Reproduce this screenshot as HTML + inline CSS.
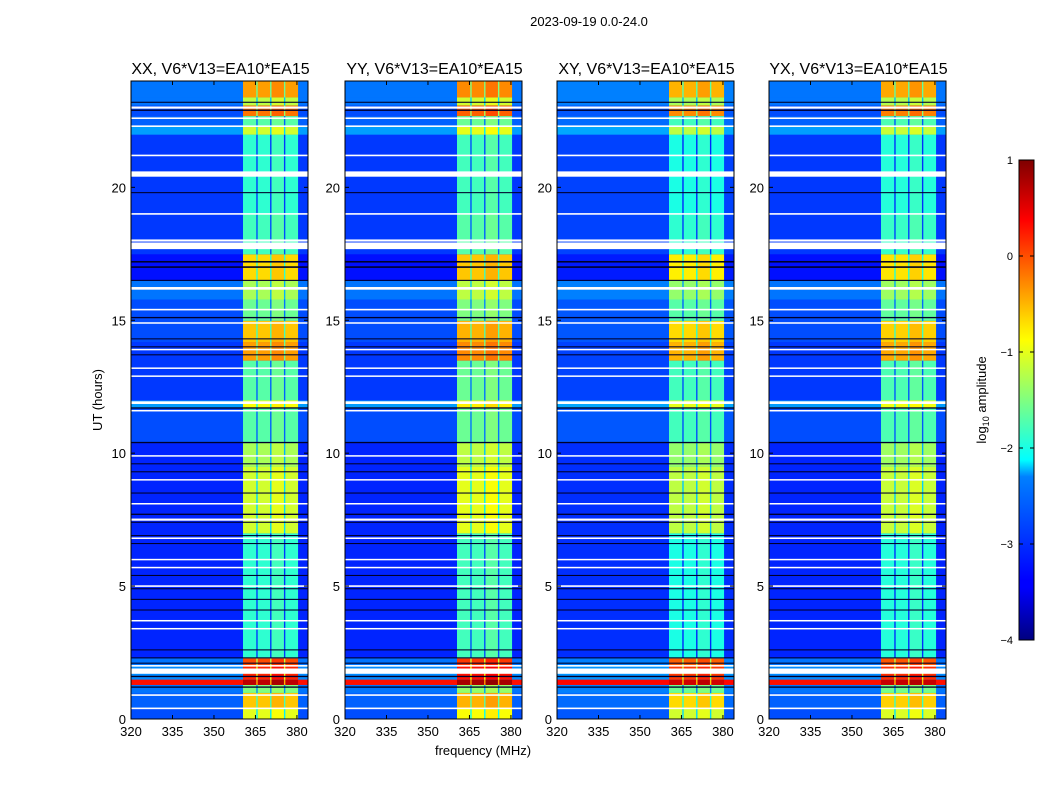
<!DOCTYPE html>
<html><head><meta charset="utf-8"><style>
body{margin:0;background:#fff;font-family:"Liberation Sans",sans-serif}
svg text{font-family:"Liberation Sans",sans-serif}
</style></head><body>
<svg id="fig" width="1050" height="800" viewBox="0 0 1050 800">
<text x="589" y="26" font-size="13" text-anchor="middle">2023-09-19 0.0-24.0</text>
<g id="panels"></g>
<text x="483" y="755" font-size="13" text-anchor="middle">frequency (MHz)</text>
<text transform="translate(102,400) rotate(-90)" font-size="13" text-anchor="middle">UT (hours)</text>
<defs><linearGradient id="jetg" x1="0" y1="1" x2="0" y2="0">
<stop offset="0" stop-color="#00007f"/><stop offset="0.11" stop-color="#0000ff"/><stop offset="0.125" stop-color="#0000ff"/><stop offset="0.34" stop-color="#0080ff"/><stop offset="0.375" stop-color="#00ffff"/><stop offset="0.5" stop-color="#80ff80"/><stop offset="0.625" stop-color="#ffff00"/><stop offset="0.66" stop-color="#ffe000"/><stop offset="0.875" stop-color="#ff0000"/><stop offset="1" stop-color="#7f0000"/>
</linearGradient></defs>
<g id="colorbar">
<rect x="1019" y="160" width="15" height="480" fill="url(#jetg)" stroke="#000" stroke-width="1"/>
</g>
<text transform="translate(986,400) rotate(-90)" font-size="13" text-anchor="middle">log<tspan font-size="9" dy="3">10</tspan><tspan dy="-3"> amplitude</tspan></text>
</svg>
<script>
const titles=["XX, V6*V13=EA10*EA15","YY, V6*V13=EA10*EA15","XY, V6*V13=EA10*EA15","YX, V6*V13=EA10*EA15"];
const panelX=[131,345,557,769];
const xTicks=[320,335,350,365,380];
const yTicks=[0,5,10,15,20];
const cbTicks=[1,0,-1,-2,-3,-4];
// time segments: start hour, end hour
const segStart=[0,0.4,1.0,1.3,1.5,2.0,2.3,7.0,9.5,10.4,11.7,12.0,13.5,14.2,15.0,15.8,16.5,17.5,19.0,22.0,22.3,22.7,23.1,23.4];
const segEnd=[0.4,1.0,1.3,1.5,2.0,2.3,7.0,9.5,10.4,11.7,12.0,13.5,14.2,15.0,15.8,16.5,17.5,19.0,22.0,22.3,22.7,23.1,23.4,24];
// background level (log10 amp) per segment
const bgLevel=[-3.0,-2.9,-2.8,0.3,-2.7,-2.8,-3.2,-3.2,-3.2,-3.0,-2.6,-3.1,-3.1,-3.0,-3.0,-2.8,-3.3,-3.1,-3.1,-2.6,-2.9,-3.0,-2.8,-2.8];
// RFI band level per segment
const bandLevel=[-1.0,-0.6,-1.5,0.7,0.2,0.0,-1.9,-1.1,-1.3,-1.7,-0.9,-1.7,-0.4,-0.6,-1.6,-1.3,-0.7,-1.8,-1.9,-1.1,-1.7,-0.2,-1.2,-0.4];
// per-panel offsets
const panelBgOffset=[0,0,0.05,0];
const panelBandOffset=[0,0.1,-0.1,-0.05];
// band channel blocks (MHz) and offsets
const colStart=[360.5,365.3,365.8,370.3,370.8,375.3,375.8];
const colEnd=[365.3,365.8,370.3,370.8,375.3,375.8,380.3];
const colOffset=[0,-1.2,0,-1.2,0.1,-1.2,0];
// flagged rows (white) and dark rows
const whiteRows=[0.4,0.9,1.8,2.0,3.4,3.7,5.0,5.7,6.0,6.8,7.5,8.1,9.0,9.9,11.6,11.9,12.9,13.2,13.9,14.9,15.4,16.2,17.8,18.0,19.0,20.5,21.2,22.3,22.6,23.0];
const whiteWidth=[0.06,0.06,0.2,0.06,0.05,0.05,0.06,0.05,0.05,0.06,0.08,0.05,0.05,0.05,0.05,0.1,0.05,0.05,0.05,0.05,0.06,0.1,0.25,0.08,0.06,0.2,0.06,0.06,0.06,0.08];
const darkRows=[1.2,1.6,2.1,2.3,2.6,4.1,4.5,4.9,5.4,6.6,6.9,7.4,7.7,8.5,9.3,9.6,10.4,11.7,13.7,14.0,14.3,15.1,16.5,17.0,17.2,19.8,22.9,23.2];
const darkWidth=[0.05,0.05,0.04,0.04,0.04,0.04,0.04,0.04,0.04,0.04,0.04,0.04,0.05,0.04,0.04,0.04,0.05,0.05,0.04,0.04,0.04,0.05,0.04,0.06,0.06,0.04,0.05,0.04];

const NS="http://www.w3.org/2000/svg";
const top0=81,H=638,W=177,fMin=320,fMax=384,tMax=24;
function yS(h){return top0+H-h/tMax*H;}
function jet(v){let t=(v+4)/5;t=Math.max(0,Math.min(1,t));
 const c=x=>Math.round(255*Math.max(0,Math.min(1,x)));
 return `rgb(${c(1.5-Math.abs(4*t-3))},${c(1.5-Math.abs(4*t-2))},${c(1.5-Math.abs(4*t-1))})`;}
function mk(tag,attrs,parent){const e=document.createElementNS(NS,tag);for(const k in attrs)e.setAttribute(k,attrs[k]);parent.appendChild(e);return e;}
const root=document.getElementById('panels');
panelX.forEach((x0,p)=>{
 const xS=f=>x0+(f-fMin)/(fMax-fMin)*W;
 const g=mk('g',{},root);
 
 
 const t=mk('text',{x:x0+W/2+1,y:74,'font-size':16,'text-anchor':'middle'},g);
 t.textContent=titles[p];
 
 
 for(let i=0;i<segStart.length;i++){
  const y1=yS(segEnd[i]),y2=yS(segStart[i]);
  const r=mk('rect',{x:x0,y:y1,width:W,height:y2-y1+0.5,fill:jet(bgLevel[i]+panelBgOffset[p])},g);
  
  
  for(let j=0;j<colStart.length;j++){
   const c=mk('rect',{x:xS(colStart[j]),y:y1,width:xS(colEnd[j])-xS(colStart[j])+0.3,height:y2-y1+0.5,fill:jet(bandLevel[i]+panelBandOffset[p]+colOffset[j])},g);
   
   
  }
 }
 darkRows.forEach((h,i)=>{const l=mk('rect',{x:x0,y:yS(h+darkWidth[i]/2),width:W,height:Math.max(1,darkWidth[i]/tMax*H),fill:'#00002a'},g);
  
  });
 whiteRows.forEach((h,i)=>{const l=mk('rect',{x:x0,y:yS(h+whiteWidth[i]/2),width:W,height:Math.max(1.5,whiteWidth[i]/tMax*H),fill:'#fff'},g);
  
  });
 const fr=mk('rect',{x:x0,y:top0,width:W,height:H,fill:'none',stroke:'#000','stroke-width':1},g);
 
 
 xTicks.forEach(v=>{const xx=xS(v);
  mk('line',{x1:xx,x2:xx,y1:top0+H,y2:top0+H-4,stroke:'#000'},g);
  mk('line',{x1:xx,x2:xx,y1:top0,y2:top0+4,stroke:'#000'},g);
  const tx=mk('text',{x:xx,y:top0+H+17,'font-size':13,'text-anchor':'middle'},g);tx.textContent=v;
  
  });
 yTicks.forEach(v=>{const yy=yS(v);
  mk('line',{x1:x0,x2:x0+4,y1:yy,y2:yy,stroke:'#000'},g);
  mk('line',{x1:x0+W,x2:x0+W-4,y1:yy,y2:yy,stroke:'#000'},g);
  const ty=mk('text',{x:x0-5,y:yy+5,'font-size':13,'text-anchor':'end'},g);ty.textContent=v;
  
  });
});
const cb=document.getElementById('colorbar');
cbTicks.forEach(v=>{const yy=160+(1-v)/5*480;
 mk('line',{x1:1019,x2:1023,y1:yy,y2:yy,stroke:'#000'},cb);
 mk('line',{x1:1034,x2:1030,y1:yy,y2:yy,stroke:'#000'},cb);
 const t=mk('text',{x:1013,y:yy+4,'font-size':11,'text-anchor':'end'},cb);t.textContent=v<0?'\u2212'+(-v):v;
 
 });
</script>
</body></html>
